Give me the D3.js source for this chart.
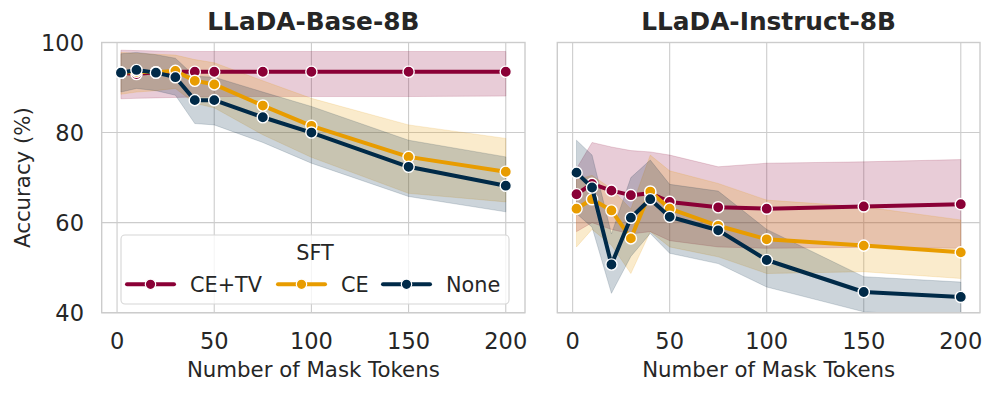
<!DOCTYPE html>
<html>
<head>
<meta charset="utf-8">
<script src="https://cdn.jsdelivr.net/npm/d3@7"></script>
<style>
  html, body { margin: 0; padding: 0; background: #fff; }
  svg { display: block; font-family: "DejaVu Sans", sans-serif; }
</style>
</head>
<body>
<div id="chart"></div>
<script>
// number of mask tokens (x)
var maskTokens = [2, 10, 20, 30, 40, 50, 75, 100, 150, 200];
var xTicks = [0, 50, 100, 150, 200];
var yTicks = [40, 60, 80, 100];

var seriesNames = ['CE+TV', 'CE', 'None'];
var seriesColors = ['#8a0036', '#e89c00', '#002a48'];

// LLaDA-Base-8B: mean, lower, upper
var baseCeTv   = [93.3, 93.0, 93.4, 93.5, 93.5, 93.5, 93.5, 93.5, 93.5, 93.5];
var baseCeTvLo = [87.5, 87.6, 87.7, 87.8, 87.9, 88.0, 88.0, 88.0, 88.0, 88.1];
var baseCeTvHi = [98.3, 98.2, 98.1, 98.0, 98.0, 98.0, 98.0, 98.0, 98.0, 98.0];
var baseCe     = [93.3, 93.5, 93.4, 93.7, 91.5, 90.7, 86.0, 81.5, 74.6, 71.3];
var baseCeLo   = [88.5, 89.0, 89.3, 89.8, 86.5, 85.5, 79.5, 74.5, 66.5, 64.6];
var baseCeHi   = [97.8, 97.6, 97.4, 97.2, 96.2, 95.5, 91.5, 87.6, 81.7, 78.7];
var baseNone   = [93.3, 93.9, 93.3, 92.3, 87.2, 87.2, 83.4, 80.0, 72.4, 68.2];
var baseNoneLo = [89.0, 89.8, 89.3, 88.3, 82.0, 81.7, 77.8, 73.2, 65.8, 62.4];
var baseNoneHi = [97.5, 97.8, 97.3, 96.5, 92.5, 92.3, 89.0, 85.8, 78.3, 74.6];

// LLaDA-Instruct-8B: mean, lower, upper
var instCeTv   = [66.3, 68.6, 67.1, 66.1, 66.5, 64.6, 63.4, 63.1, 63.6, 64.1];
var instCeTvLo = [58.0, 60.0, 58.5, 57.5, 58.0, 56.0, 54.6, 54.3, 54.5, 54.3];
var instCeTvHi = [72.0, 77.8, 76.8, 76.0, 75.7, 75.0, 72.4, 73.2, 73.5, 74.0];
var instCe     = [63.1, 65.2, 62.7, 56.5, 66.9, 63.1, 59.3, 56.3, 54.9, 53.4];
var instCeLo   = [54.6, 58.5, 55.0, 48.7, 58.0, 54.6, 52.4, 48.7, 49.1, 47.6];
var instCeHi   = [69.5, 70.5, 67.5, 63.0, 75.0, 71.5, 68.7, 65.0, 63.5, 60.6];
var instNone   = [71.1, 67.8, 50.7, 61.1, 65.2, 61.3, 58.3, 51.7, 44.6, 43.5];
var instNoneLo = [62.0, 59.0, 44.3, 52.5, 57.6, 53.2, 50.9, 45.7, 40.2, 39.0];
var instNoneHi = [78.3, 75.0, 57.5, 70.0, 73.9, 68.5, 67.0, 58.5, 48.0, 46.8];

(function () {
  'use strict';

  var W = 996, H = 393;
  var plotTop = 42.5, plotBottom = 312.7;

  var svg = d3.select('#chart').append('svg')
    .attr('width', W).attr('height', H);

  function makeSeries(means, los, his) {
    return means.map(function (m, i) {
      return {
        name: seriesNames[i],
        color: seriesColors[i],
        pts: maskTokens.map(function (x, j) {
          return { x: x, y: m[j], lo: los[i][j], hi: his[i][j] };
        })
      };
    });
  }

  var panels = [
    { title: 'LLaDA-Base-8B', left: 101.7, right: 525, yLabels: true,
      series: makeSeries([baseCeTv, baseCe, baseNone], [baseCeTvLo, baseCeLo, baseNoneLo], [baseCeTvHi, baseCeHi, baseNoneHi]) },
    { title: 'LLaDA-Instruct-8B', left: 557.3, right: 980, yLabels: false,
      series: makeSeries([instCeTv, instCe, instNone], [instCeTvLo, instCeLo, instNoneLo], [instCeTvHi, instCeHi, instNoneHi]) }
  ];

  // matplotlib-like 5% margins on x
  var xMin = d3.min(maskTokens), xMax = d3.max(maskTokens);
  var xPad = (xMax - xMin) * 0.05;

  var y = d3.scaleLinear().domain([40, 100]).range([plotBottom, plotTop]);

  panels.forEach(function (p, pi) {
    var x = d3.scaleLinear().domain([xMin - xPad, xMax + xPad]).range([p.left, p.right]);
    var g = svg.append('g');

    g.append('clipPath').attr('id', 'clip' + pi)
      .append('rect').attr('x', p.left).attr('y', plotTop)
      .attr('width', p.right - p.left).attr('height', plotBottom - plotTop);

    // grid
    g.append('g').selectAll('line').data(xTicks).enter().append('line')
      .attr('x1', function (d) { return x(d); }).attr('x2', function (d) { return x(d); })
      .attr('y1', plotTop).attr('y2', plotBottom)
      .attr('stroke', '#cccccc').attr('stroke-width', 1.1);
    g.append('g').selectAll('line').data(yTicks).enter().append('line')
      .attr('x1', p.left).attr('x2', p.right)
      .attr('y1', function (d) { return y(d); }).attr('y2', function (d) { return y(d); })
      .attr('stroke', '#cccccc').attr('stroke-width', 1.1);

    var plot = g.append('g').attr('clip-path', 'url(#clip' + pi + ')');

    var area = d3.area()
      .x(function (d) { return x(d.x); })
      .y0(function (d) { return y(d.lo); })
      .y1(function (d) { return y(d.hi); });
    var line = d3.line()
      .x(function (d) { return x(d.x); })
      .y(function (d) { return y(d.y); });

    // bands below all lines
    p.series.forEach(function (s) {
      plot.append('path').datum(s.pts)
        .attr('d', area)
        .attr('fill', s.color).attr('fill-opacity', 0.2)
        .attr('stroke', s.color).attr('stroke-opacity', 0.2).attr('stroke-width', 0.8);
    });

    p.series.forEach(function (s) {
      plot.append('path').datum(s.pts)
        .attr('d', line)
        .attr('fill', 'none').attr('stroke', s.color)
        .attr('stroke-width', 4).attr('stroke-linejoin', 'round').attr('stroke-linecap', 'round');
      plot.append('g').selectAll('circle').data(s.pts).enter().append('circle')
        .attr('cx', function (d) { return x(d.x); })
        .attr('cy', function (d) { return y(d.y); })
        .attr('r', 5.6)
        .attr('fill', s.color).attr('stroke', '#fff').attr('stroke-width', 1.4);
    });

    // frame
    g.append('rect').attr('x', p.left).attr('y', plotTop)
      .attr('width', p.right - p.left).attr('height', plotBottom - plotTop)
      .attr('fill', 'none').attr('stroke', '#cccccc').attr('stroke-width', 1.4);

    // x tick labels
    g.append('g').selectAll('text').data(xTicks).enter().append('text')
      .attr('x', function (d) { return x(d); }).attr('y', 348.5)
      .attr('text-anchor', 'middle').attr('font-size', 22.5).attr('fill', '#262626')
      .text(function (d) { return d; });

    g.append('text').attr('x', (p.left + p.right) / 2).attr('y', 376.5)
      .attr('text-anchor', 'middle').attr('font-size', 21.3).attr('fill', '#262626')
      .text('Number of Mask Tokens');

    g.append('text').attr('x', (p.left + p.right) / 2).attr('y', 30)
      .attr('text-anchor', 'middle').attr('font-size', 24.8).attr('font-weight', 'bold')
      .attr('fill', '#262626').text(p.title);

    if (p.yLabels) {
      g.append('g').selectAll('text').data(yTicks).enter().append('text')
        .attr('x', 84).attr('y', function (d) { return y(d); }).attr('dy', '0.36em')
        .attr('text-anchor', 'end').attr('font-size', 22.5).attr('fill', '#262626')
        .text(function (d) { return d; });
      g.append('text')
        .attr('transform', 'translate(30,' + ((plotTop + plotBottom) / 2) + ') rotate(-90)')
        .attr('text-anchor', 'middle').attr('font-size', 21.3).attr('fill', '#262626')
        .text('Accuracy (%)');
    }
  });

  // legend (left panel)
  var leg = svg.append('g');
  leg.append('rect').attr('x', 121).attr('y', 235).attr('width', 388).attr('height', 69)
    .attr('rx', 4).attr('fill', '#fff').attr('fill-opacity', 0.8)
    .attr('stroke', '#d6d6d6').attr('stroke-width', 1.1);
  leg.append('text').attr('x', 315).attr('y', 260).attr('text-anchor', 'middle')
    .attr('font-size', 20.8).attr('fill', '#262626').text('SFT');
  var legX = [127, 278, 383];
  seriesNames.forEach(function (n, i) {
    var gx = legX[i];
    leg.append('line').attr('x1', gx).attr('x2', gx + 47).attr('y1', 284.3).attr('y2', 284.3)
      .attr('stroke', seriesColors[i]).attr('stroke-width', 4).attr('stroke-linecap', 'round');
    leg.append('circle').attr('cx', gx + 23.5).attr('cy', 284.3).attr('r', 5.2)
      .attr('fill', seriesColors[i]).attr('stroke', '#fff').attr('stroke-width', 1.2);
    leg.append('text').attr('x', gx + 63).attr('y', 291.7)
      .attr('font-size', 20.8).attr('fill', '#262626').text(n);
  });
})();
</script>
</body>
</html>
